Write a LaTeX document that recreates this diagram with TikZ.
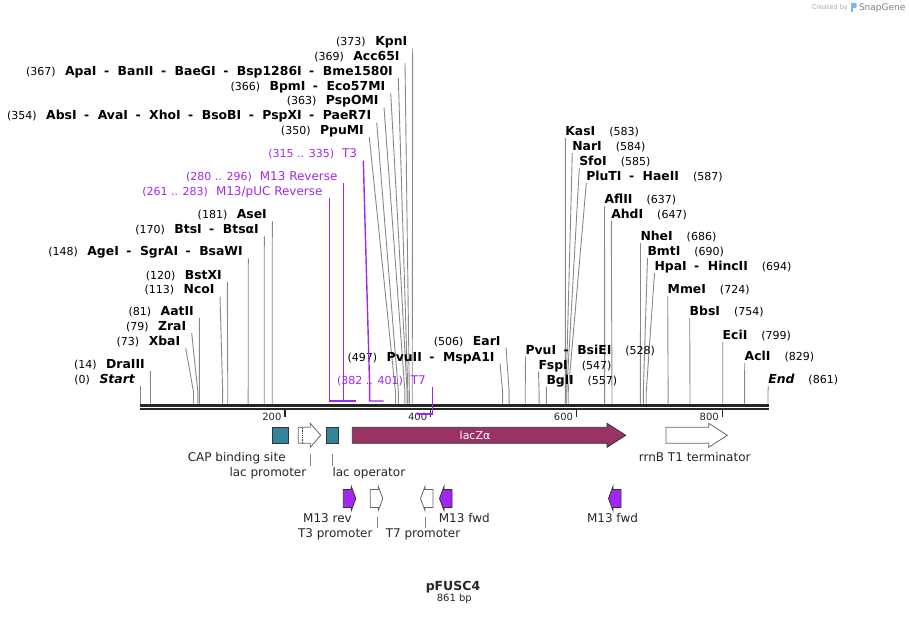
\documentclass[tikz,border=0pt]{standalone}
\usepackage{fontspec}
\setmainfont{DejaVu Sans}
\usetikzlibrary{positioning}

\definecolor{primer}{RGB}{160,40,240}
\definecolor{capteal}{RGB}{49,132,155}
\definecolor{laczred}{RGB}{153,51,102}
\definecolor{leadgray}{RGB}{136,136,136}
\definecolor{logoblue}{RGB}{120,185,235}

\newcommand\numfont{\fontsize{11}{13}\selectfont}
\newcommand\namefont{\fontsize{12.4}{14}\selectfont\bfseries}
\newcommand\dsep{\hspace{7.5pt}-\hspace{8.5pt}}
\newcommand\enzl[2]{{\numfont(#1)}\hspace{9.5pt}{\namefont #2}}
\newcommand\enzr[2]{{\namefont #2}\hspace{14pt}{\numfont(#1)}}
% small primer / promoter arrows
\newcommand\rpr[2]{\filldraw[#2] (#1,489.5) -- (#1+8,489.5) -- (#1+8,486.5) -- (#1+12.5,498.5) -- (#1+8,510.5) -- (#1+8,507.5) -- (#1,507.5) -- cycle;}
\newcommand\lpr[2]{\filldraw[#2] (#1,489.5) -- (#1-8,489.5) -- (#1-8,486.5) -- (#1-12.5,498.5) -- (#1-8,510.5) -- (#1-8,507.5) -- (#1,507.5) -- cycle;}

\tikzset{
  enz/.style={inner sep=0pt, outer sep=0pt},
  leader/.style={leadgray, line width=0.9pt},
  pline/.style={primer, line width=1.4pt},
  plbl/.style={inner sep=0pt, text=primer},
  featlbl/.style={inner sep=0pt, font=\fontsize{12}{14}\selectfont, text=black!85},
  featline/.style={leadgray, line width=0.8pt},
  whitearrow/.style={fill=white, draw=gray!80!black, line width=0.8pt},
  primarrow/.style={fill=primer, draw=black!80, line width=0.8pt},
}

\begin{document}
\begin{tikzpicture}[x=1pt, y=-1pt]
		\useasboundingbox (0,0) rectangle (909,617);
		% enzymes, label left of line
		\foreach \by/\lx/\p/\nm [count=\i] in {46/412.7/373/KpnI, 60.7/405/369/Acc65I,
				75.5/398.3/367/{ApaI\dsep BanII\dsep BaeGI\dsep Bsp1286I\dsep Bme1580I},
				90.3/390.7/366/{BpmI\dsep Eco57MI}, 105/384/363/PspOMI,
				119.8/376.7/354/{AbsI\dsep AvaI\dsep XhoI\dsep BsoBI\dsep PspXI\dsep PaeR7I},
				134.6/369.3/350/PpuMI, 219/272.3/181/AseI, 234/264.3/170/{BtsI\dsep BtsαI},
				256/248.3/148/{AgeI\dsep SgrAI\dsep BsaWI}, 279.3/227.3/120/BstXI, 294/220/113/NcoI,
				315.7/199.3/81/AatII, 330.7/191.7/79/ZraI, 345.7/185.7/73/XbaI,
				368.3/150.3/14/DraIII, 383.3/140.3/0/{\itshape Start},
				361/500/497/{PvuII\dsep MspA1I}, 345/506/506/EarI} {
				\pgfmathsetmacro\sx{140.3+0.729*\p}
				\node[enz, anchor=base east] (l\i) at (\lx-5.5,\by) {\enzl{\p}{\nm}};
				\coordinate (lt\i) at (\lx,\by+2.5);
				\coordinate (lb\i) at (\sx,403.6);
				\draw[leader] (lt\i) -- (\sx,392) -- (lb\i);
			}
		% enzymes, label right of line
		\foreach \by/\lx/\p/\nm [count=\i] in {135.7/565.3/583/KasI, 150.7/572.3/584/NarI,
				165.7/579.3/585/SfoI, 180.7/586.3/587/{PluTI\dsep HaeII}, 203.3/604.5/637/AflII,
				218.3/611.3/647/AhdI, 240.7/640.5/686/NheI, 255.7/647.5/690/BmtI,
				270.7/654.5/694/{HpaI\dsep HincII}, 293.3/667.7/724/MmeI, 315.7/689.7/754/BbsI,
				339/722.7/799/EciI, 360.7/744.7/829/AclI, 383.3/768.3/861/{\itshape End},
				354/525.5/528/{PvuI\dsep BsiEI}, 369/538.5/547/FspI, 384/546.5/557/BglI} {
				\pgfmathsetmacro\sx{140.3+0.729*\p}
				\node[enz, anchor=base west] (r\i) at (\lx,\by) {\enzr{\p}{\nm}};
				\coordinate (rt\i) at (\lx,\by+2.5);
				\coordinate (rb\i) at (\sx,403.6);
				\draw[leader] (rt\i) -- (\sx,392) -- (rb\i);
			}
		% primer binding sites
		\node[plbl, anchor=base east] (t3) at (357.3,158) {{\numfont(315 .. 335)}\hspace{8pt}{\fontsize{12}{14}\selectfont T3}};
		\node[plbl, anchor=base east] (m13r) at (337.7,181) {{\numfont(280 .. 296)}\hspace{8pt}{\fontsize{12}{14}\selectfont M13 Reverse}};
		\node[plbl, anchor=base east] (pucr) at (322.7,196) {{\numfont(261 .. 283)}\hspace{8pt}{\fontsize{12}{14}\selectfont M13/pUC Reverse}};
		\node[plbl, anchor=base east] (t7) at (426,384.3) {{\numfont(382 .. 401)}\hspace{8pt}{\fontsize{12}{14}\selectfont T7}};
		\coordinate (t3a) at (363.3,160.7);
		\coordinate (m13ra) at (343.3,183);
		\coordinate (pucra) at (329.3,198);
		\coordinate (t7a) at (432.3,386.5);
		\draw[pline] (pucra) -- (329.3,401) -- (346,401);
		\draw[pline] (m13ra) -- (343.3,401) -- (356,401);
		\draw[pline] (t3a) -- (369.6,385) -- (369.6,401) -- (383.5,401);
		% ruler
		\coordinate (r0) at (140,405.3);
		\coordinate (r1) at (768.5,405.3);
		\draw[black!85, line width=2.5pt] (r0) -- (r1);
		\draw[black!85, line width=1.8pt] ([yshift=-3.9pt]r0) -- ([yshift=-3.9pt]r1);
		\foreach \t in {200,400,600,800} {
				\pgfmathsetmacro\tx{139.1+0.729*\t}
				\draw[black!85, line width=1.4pt] (\tx,410) -- (\tx,417);
				\node[enz, anchor=base east, font=\fontsize{10}{12}\selectfont, text=black!85] (tk\t) at (\tx-3.5,420) {\t};
			}
		\draw[pline] (t7a) -- (432.3,414) -- (417.3,414);
		% features
		\filldraw[fill=capteal, draw=black!80, line width=0.8pt] (272.3,427.3) rectangle (288.3,443.3);
		\filldraw[whitearrow] (298.3,427.3) -- (310.3,427.3) -- (310.3,423.3) -- (320.7,435.3) -- (310.3,447.3) -- (310.3,443.3) -- (298.3,443.3) -- cycle;
		\draw[black!80, densely dotted, line width=0.8pt] (302,427.8) -- (302,442.8);
		\filldraw[fill=capteal, draw=black!80, line width=0.8pt] (326,427.3) rectangle (338.7,443.3);
		\filldraw[fill=laczred, draw=black!80, line width=0.8pt] (352.3,427.3) -- (607,427.3) -- (607,423.3) -- (625.7,435.3) -- (607,447.3) -- (607,443.3) -- (352.3,443.3) -- cycle;
		\filldraw[whitearrow] (666,427.3) -- (708.7,427.3) -- (708.7,423.3) -- (727.3,435.3) -- (708.7,447.3) -- (708.7,443.3) -- (666,443.3) -- cycle;
		\node[enz, text=white, font=\fontsize{11}{13}\selectfont] (lacz) at (475,435.3) {lacZα};
		\node[featlbl, anchor=base] (cap) at (236.7,461) {CAP binding site};
		\node[featlbl, anchor=base east] (lacp) at (306.5,476.5) {lac promoter};
		\node[featlbl, anchor=base west] (laco) at (332.3,476.5) {lac operator};
		\node[featlbl, anchor=base] (rrnb) at (694.7,461) {rrnB T1 terminator};
		\coordinate (lacpa) at (310,454.3);
		\coordinate (lacoa) at (332,454.3);
		\draw[featline] (lacpa) -- (310,466);
		\draw[featline] (lacoa) -- (332,466);
		% primers and promoters
		\rpr{343.3}{primarrow}
		\rpr{370.3}{whitearrow}
		\lpr{433}{whitearrow}
		\lpr{452}{primarrow}
		\lpr{621}{primarrow}
		\node[featlbl, anchor=base] (m13rev) at (327.5,522.7) {M13 rev};
		\node[featlbl, anchor=base] (t3p) at (335.3,537) {T3 promoter};
		\node[featlbl, anchor=base] (t7p) at (423,537) {T7 promoter};
		\node[featlbl, anchor=base] (m13f) at (464.3,522.7) {M13 fwd};
		\node[featlbl, anchor=base] (m13fb) at (612.5,522.7) {M13 fwd};
		\coordinate (t3pa) at (377.3,516.7);
		\coordinate (t7pa) at (425,516.7);
		\draw[featline] (t3pa) -- (377.3,528.3);
		\draw[featline] (t7pa) -- (425,528.3);
		% title
		\node[enz, font=\fontsize{12.5}{15}\selectfont\bfseries, text=black!85, anchor=base] (name) at (453,590) {pFUSC4};
		\node[enz, font=\fontsize{10}{12}\selectfont, text=black!85, anchor=base] (len) at (454.3,601.5) {861 bp};
		% watermark
		\node[enz, anchor=base west, font=\fontsize{6.5}{8}\selectfont, text=black!35] (made) at (812,10) {Created by};
		\fill[logoblue] (851,2.8) rectangle (853,12.5);
		\fill[logoblue, rounded corners=1.2pt] (851,2.8) rectangle (856.5,8.2);
		\node[enz, anchor=base west, font=\fontsize{9}{10}\selectfont, text=black!50] (sg) at (859,10.5) {SnapGene};
	\end{tikzpicture}
\end{document}
